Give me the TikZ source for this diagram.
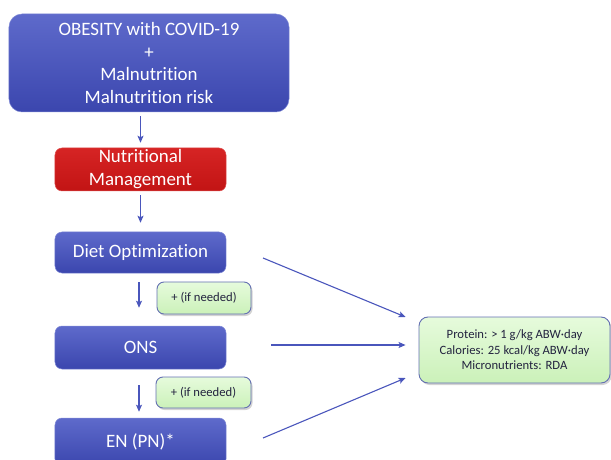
\documentclass[tikz,border=0pt]{standalone}
\usepackage{fontspec}
\setmainfont[RawFeature={-liga;-clig;-calt;-dlig}]{Carlito}
\usetikzlibrary{shadows,arrows.meta,calc}
\definecolor{bluetop}{HTML}{5E6ACB}
\definecolor{bluebot}{HTML}{3B46AE}
\definecolor{redtop}{HTML}{D62424}
\definecolor{redbot}{HTML}{C21414}
\definecolor{greentop}{HTML}{E6FBDC}
\definecolor{greenbot}{HTML}{CBF1B9}
\definecolor{greenline}{HTML}{6470B2}
\definecolor{arrowc}{HTML}{4A56BC}
\definecolor{darktext}{HTML}{23233F}
\tikzset{
  bluebox/.style={rectangle, rounded corners=7bp, top color=bluetop, bottom color=bluebot,
    draw=bluetop!80!white, line width=0.5bp, text=white, align=center, inner sep=0pt,
    font=\fontsize{19}{23}\selectfont},
  redbox/.style={bluebox, top color=redtop, bottom color=redbot, draw=redtop!80!white},
  greenbox/.style={rectangle, rounded corners=7bp, top color=greentop, bottom color=greenbot,
    draw=greenline, line width=0.9bp, text=darktext, align=center, inner sep=0pt,
    drop shadow={shadow xshift=1.5bp, shadow yshift=-2bp, opacity=0.35},
    font=\fontsize{12.7}{15.5}\selectfont},
  flow/.style={draw=arrowc, line width=1.1bp, -{Stealth[length=7bp,width=6bp,inset=1.5bp]}}
}
\begin{document}
\begin{tikzpicture}[x=1bp,y=-1bp]
\useasboundingbox (0,0) rectangle (611,460);
\clip (0,0) rectangle (611,460);
\node[bluebox, rounded corners=13bp, minimum width=280bp, minimum height=98bp] (top) at (149,63)
  {OBESITY with COVID-19\\+\\Malnutrition\\Malnutrition risk};
\node[redbox, minimum width=171bp, minimum height=43bp] (red) at (140.5,169.5)
  {Nutritional\\Management};
\node[bluebox, minimum width=171bp, minimum height=41bp] (diet) at (140.5,252.5) {Diet Optimization};
\node[bluebox, minimum width=171bp, minimum height=43bp] (ons) at (140.5,347.5) {ONS};
\node[bluebox, minimum width=171bp, minimum height=48bp] (en) at (140.5,442) {EN (PN)*};
\node[greenbox, minimum width=94bp, minimum height=32bp] (if1) at (204,298) {+ (if needed)};
\node[greenbox, minimum width=95bp, minimum height=31bp] (if2) at (203.5,392.5) {+ (if needed)};
\node[greenbox, rounded corners=9bp, minimum width=191bp, minimum height=66bp] (res) at (514.5,350)
  {Protein: > 1 g/kg ABW·day\\Calories: 25 kcal/kg ABW·day\\Micronutrients: RDA};

\draw[flow, shorten <=4bp, shorten >=5bp] (red.north |- top.south) -- (red.north);
\draw[flow, shorten <=4bp, shorten >=9bp] (red.south) -- (diet.north);
\draw[flow, shorten <=9bp, shorten >=18bp] ($(diet.south)+(-1.5,0)$) -- ($(ons.north)+(-1.5,0)$);
\draw[flow, shorten <=16bp, shorten >=6bp] ($(ons.south)+(-1.5,0)$) -- ($(en.north)+(-1.5,0)$);

\coordinate (s1) at (263,258);
\coordinate (s2) at (271,345);
\coordinate (s3) at (263,438);
\draw[flow] (s1) -- ($(res.west)+(-13,-33)$);
\draw[flow] (s2) -- ($(res.west)+(-13,-5)$);
\draw[flow] (s3) -- ($(res.west)+(-13,28)$);
\end{tikzpicture}
\end{document}
